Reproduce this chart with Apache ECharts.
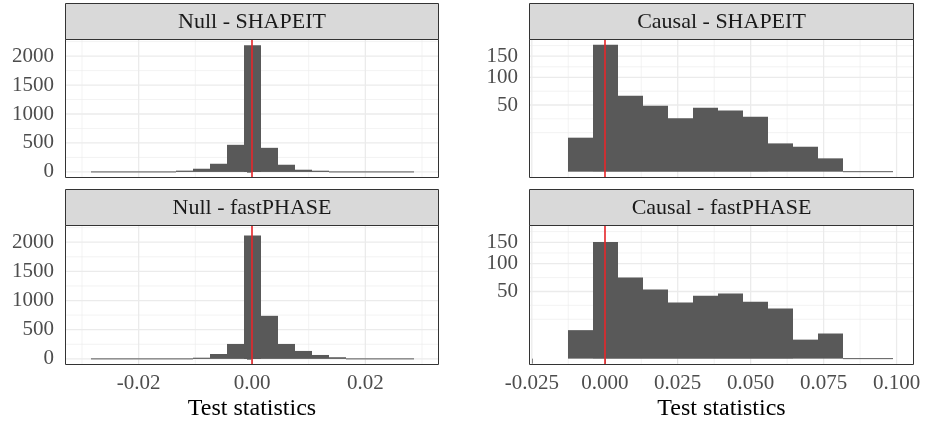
<!DOCTYPE html>
<html>
<head>
<meta charset="utf-8">
<script src="https://cdn.jsdelivr.net/npm/echarts@6/dist/echarts.min.js"></script>
<style>html,body{margin:0;padding:0;background:#fff}#c{width:925px;height:425px}</style>
</head>
<body>
<div id="c"></div>
<script>
// ---------- data ----------
const panelTitles = ['Null - SHAPEIT', 'Null - fastPHASE', 'Causal - SHAPEIT', 'Causal - fastPHASE'];
const xTitle = 'Test statistics';

const nullBinEdges = [-0.0284, -0.0254, -0.0224, -0.0194, -0.0164, -0.0134, -0.0104, -0.0074, -0.0044, -0.0014,
  0.0016, 0.0046, 0.0076, 0.0106, 0.0136, 0.0166, 0.0196, 0.0226, 0.0256, 0.0286];
const nullShapeitCounts   = [0, 0, 1, 2, 3, 22, 55, 141, 468, 2187, 416, 124, 38, 21, 5, 2, 1, 0, 0];
const nullFastphaseCounts = [0, 0, 0, 1, 3, 6, 20, 84, 256, 2113, 738, 256, 136, 67, 28, 5, 2, 1, 0];

const causalBinEdges = [-0.0127, -0.0041, 0.0045, 0.0130, 0.0216, 0.0302, 0.0387, 0.0473, 0.0559, 0.0645,
  0.0730, 0.0816, 0.0902, 0.0988];
const causalShapeitCounts   = [13, 181, 65, 49, 32, 46, 42, 34, 9, 7, 2, 0, 0];
const causalFastphaseCounts = [9, 151, 73, 53, 35, 44, 47, 36, 28, 4, 7, 0, 0];

const nullXTicks = [-0.02, 0, 0.02];
const causalXTicks = [-0.025, 0, 0.025, 0.05, 0.075, 0.1];
const nullYTicks = [0, 500, 1000, 1500, 2000];
const causalYTicks = [50, 100, 150];
const refLineX = 0;

// ---------- layout / style ----------
const FONT = "'Liberation Serif', 'DejaVu Serif', serif";
const panels = [
  {left: 65, top: 39, width: 374, height: 139},
  {left: 65, top: 225, width: 374, height: 140},
  {left: 529, top: 39, width: 385, height: 139},
  {left: 529, top: 225, width: 385, height: 140}
];
const stripH = 36;

const xRanges = [[-0.033, 0.033], [-0.033, 0.033], [-0.02596, 0.10597], [-0.02596, 0.10597]];
const yRanges = [[-105, 2295], [-105, 2295], [-0.67, 14.07], [-0.67, 14.07]];
const isSqrt = [false, false, true, true];
const isBottom = [false, true, false, true];

function bins(edges, counts) {
  return counts.map((c, i) => [edges[i], edges[i + 1], c]);
}
const histData = [
  bins(nullBinEdges, nullShapeitCounts),
  bins(nullBinEdges, nullFastphaseCounts),
  bins(causalBinEdges, causalShapeitCounts),
  bins(causalBinEdges, causalFastphaseCounts)
];

function minorOf(majors, min, max) {
  let b = majors.slice();
  if (min < b[0]) b.unshift(b[0] - (b[1] - b[0]));
  const n = b.length;
  if (max > b[n - 1]) b.push(b[n - 1] + (b[n - 1] - b[n - 2]));
  const out = [];
  for (let i = 0; i < b.length; i++) {
    out.push(b[i]);
    if (i < b.length - 1) out.push((b[i] + b[i + 1]) / 2);
  }
  return out.filter(v => v > min && v < max && !majors.some(m => Math.abs(m - v) < 1e-9));
}

const grids = [], xAxes = [], yAxes = [], series = [], graphics = [];

panels.forEach((p, i) => {
  grids.push({left: p.left, top: p.top, width: p.width, height: p.height, containLabel: false, show: false});
  const xt = i < 2 ? nullXTicks : causalXTicks;
  const ytRaw = i < 2 ? nullYTicks : causalYTicks;
  const yt = isSqrt[i] ? ytRaw.map(Math.sqrt) : ytRaw;
  const dec = i < 2 ? 2 : 3;
  xAxes.push({
    type: 'value', gridIndex: i, min: xRanges[i][0], max: xRanges[i][1],
    axisLine: {show: false}, splitLine: {show: false},
    axisTick: {show: isBottom[i], customValues: xt, length: 5, lineStyle: {color: '#333333', width: 1}},
    axisLabel: {show: isBottom[i], customValues: xt, margin: 8, fontFamily: FONT, fontSize: 21, color: '#4D4D4D',
      formatter: v => v.toFixed(dec)},
    name: isBottom[i] ? xTitle : '', nameLocation: 'middle', nameGap: 32,
    nameTextStyle: {fontFamily: FONT, fontSize: 24, color: '#000000'}
  });
  yAxes.push({
    type: 'value', gridIndex: i, min: yRanges[i][0], max: yRanges[i][1],
    axisLine: {show: false}, splitLine: {show: false},
    axisTick: {show: true, customValues: yt, length: 5, lineStyle: {color: '#333333', width: 1}},
    axisLabel: {show: true, customValues: yt, margin: 11, fontFamily: FONT, fontSize: 21, color: '#4D4D4D',
      formatter: v => String(Math.round(isSqrt[i] ? v * v : v))}
  });

  // grid lines
  const xMin = minorOf(xt, xRanges[i][0], xRanges[i][1]);
  const yMin = minorOf(yt, yRanges[i][0], yRanges[i][1]);
  const gl = [];
  xt.forEach(v => gl.push([0, v, 1])); xMin.forEach(v => gl.push([0, v, 0]));
  yt.forEach(v => gl.push([1, v, 1])); yMin.forEach(v => gl.push([1, v, 0]));
  series.push({
    type: 'custom', xAxisIndex: i, yAxisIndex: i, silent: true, z: 1, clip: true,
    data: gl,
    renderItem: function (params, api) {
      const cs = params.coordSys;
      const dir = api.value(0), v = api.value(1), major = api.value(2);
      const lw = major ? 1.3 : 0.6;
      if (dir === 0) {
        const x = api.coord([v, 0])[0];
        return {type: 'line', shape: {x1: x, y1: cs.y, x2: x, y2: cs.y + cs.height},
          style: {stroke: '#EBEBEB', lineWidth: lw}};
      } else {
        const y = api.coord([xRanges[i][0], v])[1];
        return {type: 'line', shape: {x1: cs.x, y1: y, x2: cs.x + cs.width, y2: y},
          style: {stroke: '#EBEBEB', lineWidth: lw}};
      }
    }
  });

  // histogram
  const sq = isSqrt[i];
  series.push({
    type: 'custom', xAxisIndex: i, yAxisIndex: i, z: 3, silent: true,
    data: histData[i],
    encode: {x: [0, 1], y: 2},
    renderItem: function (params, api) {
      const x0 = api.value(0), x1 = api.value(1), c = api.value(2);
      const yv = sq ? Math.sqrt(c) : c;
      const p0 = api.coord([x0, 0]);
      const p1 = api.coord([x1, yv]);
      let h = p0[1] - p1[1];
      let y = p1[1];
      if (h < 1) { h = 1; y = p0[1] - 0.5; }
      const xa = Math.round(p0[0]), xb = Math.round(p1[0]);
      return {type: 'rect', shape: {x: xa, y: y, width: xb - xa, height: h}, style: {fill: '#595959'}};
    },
    markLine: {
      silent: true, symbol: 'none', label: {show: false}, animation: false,
      lineStyle: {color: '#E8262A', width: 1.6, type: 'solid'},
      data: [{xAxis: refLineX}]
    }
  });

  // panel border
  graphics.push({type: 'rect', z: 100, silent: true,
    shape: {x: p.left + 0.5, y: p.top + 0.5, width: p.width - 1, height: p.height - 1},
    style: {fill: null, stroke: '#333333', lineWidth: 1}});
  // strip
  graphics.push({type: 'rect', z: 100, silent: true,
    shape: {x: p.left + 0.5, y: p.top - stripH + 0.5, width: p.width - 1, height: stripH},
    style: {fill: '#D9D9D9', stroke: '#333333', lineWidth: 1}});
  graphics.push({type: 'text', z: 101, silent: true,
    x: p.left + p.width / 2, y: p.top - stripH / 2 + 1,
    style: {text: panelTitles[i], fill: '#1A1A1A', font: '22px ' + FONT, align: 'center', verticalAlign: 'middle'}});
});

const chart = echarts.init(document.getElementById('c'), null, {renderer: 'canvas'});
chart.setOption({
  animation: false,
  backgroundColor: '#ffffff',
  grid: grids, xAxis: xAxes, yAxis: yAxes, series: series, graphic: graphics
});
</script>
</body>
</html>
